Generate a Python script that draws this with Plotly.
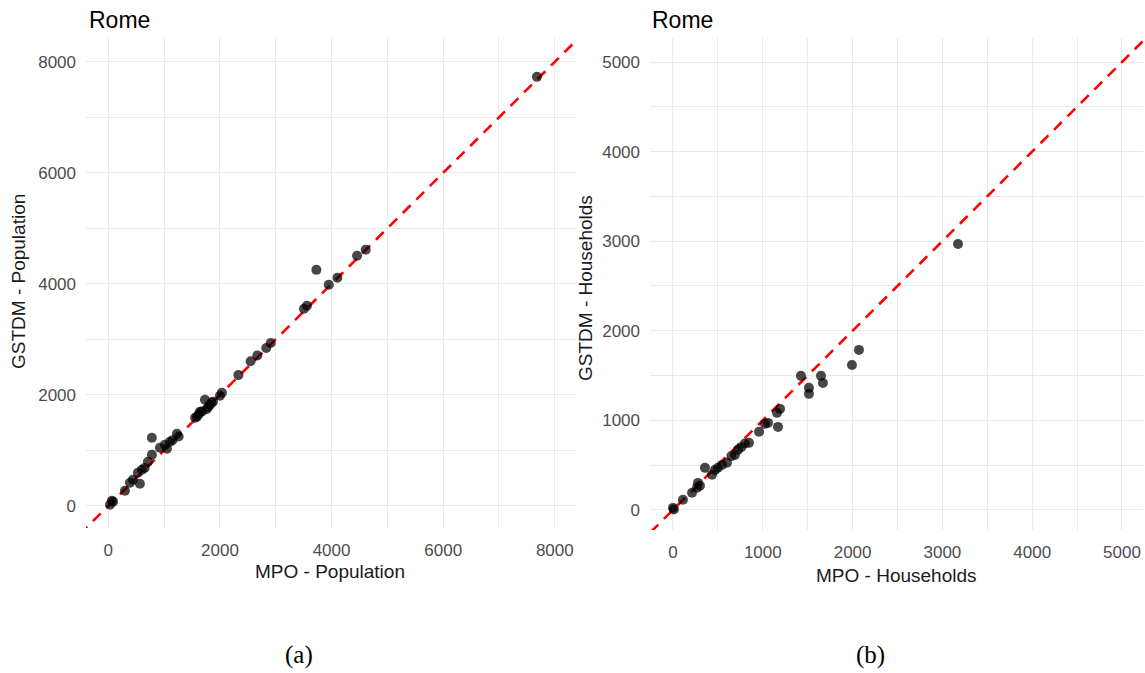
import plotly.graph_objects as go

# ---------------- data ----------------
pop_mpo = [30, 64, 85, 298, 387, 441, 530, 566, 602, 650, 710, 781, 780, 925, 1014,
           1050, 1104, 1150, 1229, 1260, 1555, 1588, 1620, 1642, 1680, 1731, 1760,
           1790, 1820, 1850, 1875, 2000, 2036, 2330, 2550, 2670, 2830, 2910, 3505,
           3559, 3728, 3950, 4105, 4457, 4612, 7681]
pop_gstdm = [18, 90, 72, 270, 414, 468, 595, 396, 649, 680, 793, 919, 1225, 1045, 1099,
             1030, 1153, 1180, 1297, 1250, 1586, 1604, 1650, 1694, 1700, 1910, 1740,
             1780, 1820, 1860, 1874, 1982, 2036, 2355, 2605, 2710, 2845, 2935, 3550,
             3604, 4252, 3982, 4110, 4505, 4613, 7730]

hh_mpo = [0, 10, 111, 212, 267, 278, 300, 356, 434, 468, 500, 546, 601, 650, 690,
          724, 760, 800, 846, 958, 1024, 1058, 1158, 1169, 1192, 1425, 1514, 1514,
          1648, 1670, 1993, 2071, 3174]
hh_gstdm = [22, 5, 112, 190, 246, 301, 270, 469, 391, 446, 470, 502, 525, 600, 614,
            670, 700, 740, 748, 871, 960, 971, 1083, 926, 1127, 1496, 1362, 1295,
            1496, 1417, 1618, 1786, 2969]

pop_ticks = [0, 2000, 4000, 6000, 8000]
hh_ticks = [0, 1000, 2000, 3000, 4000, 5000]

titles = ["Rome", "Rome"]
x_titles = ["MPO - Population", "MPO - Households"]
y_titles = ["GSTDM - Population", "GSTDM - Households"]
captions = ["(a)", "(b)"]

# ---------------- figure ----------------
W, H = 1145, 673
fig = go.Figure()

marker = dict(color="rgba(0,0,0,0.72)", size=10, line=dict(width=0))
dash_line = dict(color="#ff0000", width=2.6, dash="11px,8px")

fig.add_trace(go.Scatter(x=[-1000, 10000], y=[-1000, 10000], mode="lines",
                         line=dash_line, xaxis="x", yaxis="y", hoverinfo="skip"))
fig.add_trace(go.Scatter(x=pop_mpo, y=pop_gstdm, mode="markers", marker=marker,
                         xaxis="x", yaxis="y"))
fig.add_trace(go.Scatter(x=[-1000, 10000], y=[-1000, 10000], mode="lines",
                         line=dash_line, xaxis="x2", yaxis="y2", hoverinfo="skip"))
fig.add_trace(go.Scatter(x=hh_mpo, y=hh_gstdm, mode="markers", marker=marker,
                         xaxis="x2", yaxis="y2"))

grid = "#e9e9e9"
tickfont = dict(family="Liberation Sans, Arial, sans-serif", size=17, color="#4d4d4d")

def px_x(p):
    return p / W

def px_y(p):
    return 1 - p / H

a_left, a_right, top, a_bottom = 86, 576, 38, 528
b_left, b_right, b_bottom = 650, 1143, 530

common = dict(showline=False, zeroline=False, showgrid=True, gridcolor=grid, gridwidth=1.2,
              tickfont=tickfont, ticks="", fixedrange=True)

fig.update_layout(
    width=W, height=H,
    margin=dict(l=0, r=0, t=0, b=0),
    paper_bgcolor="white", plot_bgcolor="white",
    showlegend=False,
    xaxis=dict(domain=[px_x(a_left), px_x(a_right)], range=[-400, 8380],
               tickvals=pop_ticks, anchor="y",
               minor=dict(dtick=1000, tick0=0, showgrid=True, gridcolor=grid, gridwidth=1.2),
               ticklabelstandoff=10, **common),
    yaxis=dict(domain=[px_y(a_bottom), px_y(top)], range=[-400, 8430],
               tickvals=pop_ticks, anchor="x",
               minor=dict(dtick=1000, tick0=0, showgrid=True, gridcolor=grid, gridwidth=1.2),
               ticklabelstandoff=9, **common),
    xaxis2=dict(domain=[px_x(b_left), px_x(b_right)], range=[-256, 5234],
                tickvals=hh_ticks, anchor="y2",
                minor=dict(dtick=500, tick0=0, showgrid=True, gridcolor=grid, gridwidth=1.2),
                ticklabelstandoff=10, **common),
    yaxis2=dict(domain=[px_y(b_bottom), px_y(top)], range=[-225, 5268],
                tickvals=hh_ticks, anchor="x2",
                minor=dict(dtick=500, tick0=0, showgrid=True, gridcolor=grid, gridwidth=1.2),
                ticklabelstandoff=9, **common),
)

title_font = dict(family="Liberation Sans, Arial, sans-serif", size=23, color="#000000")
axis_font = dict(family="Liberation Sans, Arial, sans-serif", size=19, color="#1a1a1a")
cap_font = dict(family="Liberation Serif, Times New Roman, serif", size=25, color="#000000")

anns = []
for i, (tx, cx_x, cx_y, ty_x, ty_y, cap_x) in enumerate([
        (87, 330, 571, 18, 282, 299),
        (650, 896, 575, 585, 288, 870)]):
    anns.append(dict(text=titles[i], x=px_x(tx), y=px_y(20), xref="paper", yref="paper",
                     xanchor="left", yanchor="middle", showarrow=False, font=title_font))
    anns.append(dict(text=x_titles[i], x=px_x(cx_x), y=px_y(cx_y), xref="paper", yref="paper",
                     xanchor="center", yanchor="middle", showarrow=False, font=axis_font))
    anns.append(dict(text=y_titles[i], x=px_x(ty_x), y=px_y(ty_y), xref="paper", yref="paper",
                     xanchor="center", yanchor="middle", showarrow=False, font=axis_font,
                     textangle=-90))
    anns.append(dict(text=captions[i], x=px_x(cap_x), y=px_y(655), xref="paper", yref="paper",
                     xanchor="center", yanchor="middle", showarrow=False, font=cap_font))
fig.update_layout(annotations=anns)

fig.write_html("out.html")
